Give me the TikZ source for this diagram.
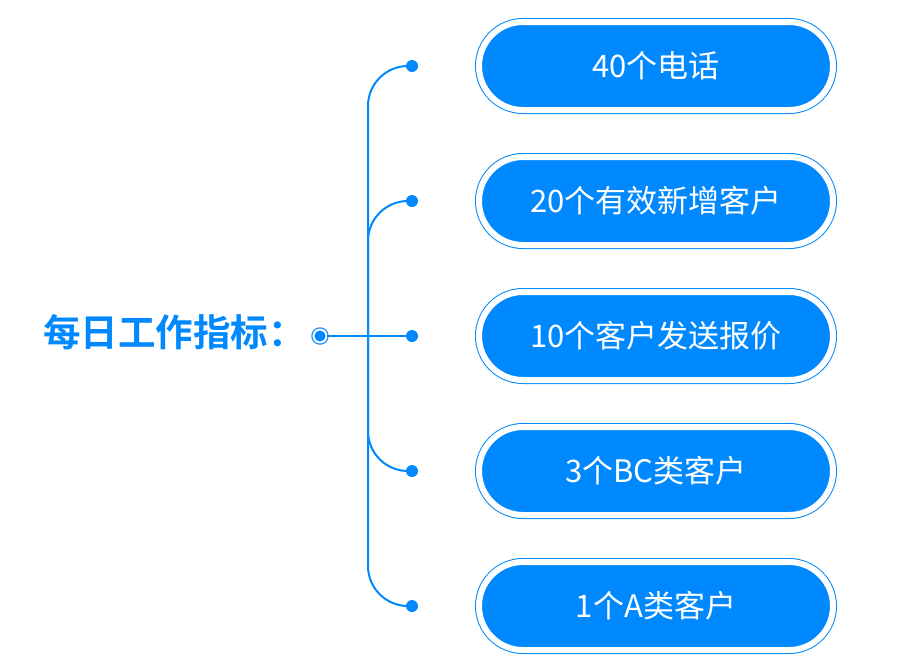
\documentclass[tikz,border=0pt]{standalone}
\usepackage{fontspec}
\setmainfont{Noto Sans CJK SC}[BoldFont={Noto Sans CJK SC Bold}]
\usepackage{tikz}
\usetikzlibrary{shapes.misc,positioning}
\definecolor{mainblue}{RGB}{0,137,255}

\begin{document}
\begin{tikzpicture}[x=1pt, y=-1pt,
  goal/.style={rounded rectangle, fill=mainblue, draw=mainblue, line width=1pt,
    double=white, double distance=6pt, minimum width=354pt, minimum height=88pt,
    inner sep=0pt, text=white, font=\fontsize{31}{36}\selectfont},
  dot/.style={circle, fill=mainblue, minimum size=12pt, inner sep=0pt},
  link/.style={draw=mainblue, line width=2pt}
]
\useasboundingbox (0,0) rectangle (900,670);

% hub and title
\node[circle, fill=mainblue, draw=mainblue, line width=1.2pt, double=white,
  double distance=2pt, minimum size=13pt, inner sep=0pt] (hub) at (320,336) {};
\node[left=7pt of hub, yshift=4pt, inner sep=0pt, text=mainblue,
  font=\bfseries\fontsize{37.5}{42}\selectfont] (title) {每日工作指标：};

% dots
\node[dot] (d1) at (412,66) {};
\node[dot] (d2) at (412,201) {};
\node[dot] (d3) at (412,336) {};
\node[dot] (d4) at (412,471) {};
\node[dot] (d5) at (412,606) {};

% goals
\node[goal] (g1) at (656,66) {40个电话};
\node[goal] (g2) at (656,201) {20个有效新增客户};
\node[goal] (g3) at (656,336) {10个客户发送报价};
\node[goal] (g4) at (656,471) {3个BC类客户};
\node[goal] (g5) at (656,606) {1个A类客户};

% branches
\coordinate (spine) at (368,336);
\draw[link, rounded corners=40pt] (d1.center) -| (spine |- d5) -- (d5.center);
\draw[link, rounded corners=40pt] (spine) |- (d2.center);
\draw[link, rounded corners=40pt] (spine) |- (d4.center);
\draw[link] (hub) -- (d3.center);
\end{tikzpicture}
\end{document}
